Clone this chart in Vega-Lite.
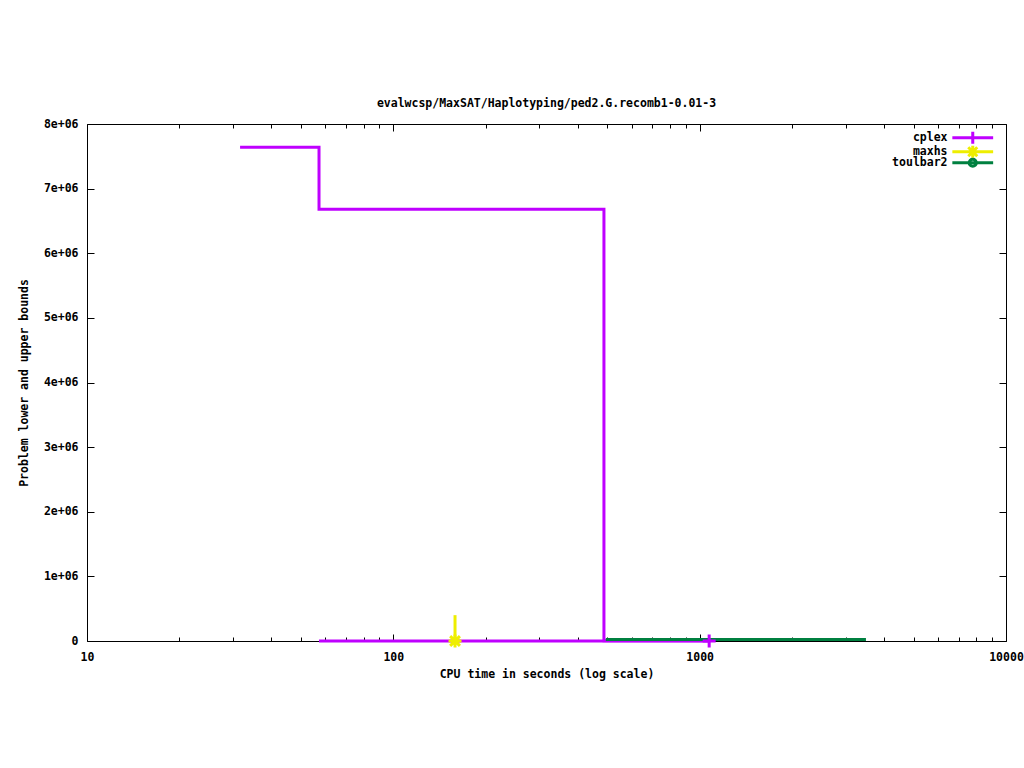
{
  "$schema": "https://vega.github.io/schema/vega-lite/v6.json",
  "width": 919,
  "height": 517,
  "autosize": {"type": "none"},
  "padding": {"left": 87, "top": 124, "right": 18, "bottom": 127},
  "background": "white",
  "title": {
    "text": "evalwcsp/MaxSAT/Haplotyping/ped2.G.recomb1-0.01-3",
    "frame": "group",
    "anchor": "middle",
    "offset": 9,
    "font": "DejaVu Sans Mono",
    "fontSize": 11.5,
    "fontWeight": "bold",
    "color": "black"
  },
  "config": {
    "view": {"stroke": "black", "strokeWidth": 1},
    "axis": {
      "domain": false,
      "grid": false,
      "tickColor": "black",
      "tickWidth": 1,
      "labelFont": "DejaVu Sans Mono",
      "labelFontSize": 11.5,
      "labelFontWeight": "bold",
      "labelColor": "black",
      "titleFont": "DejaVu Sans Mono",
      "titleFontSize": 11.5,
      "titleFontWeight": "bold",
      "titleColor": "black"
    }
  },
  "datasets": {
    "bounds": [
      {"solver": "cplex", "bound": "upper", "i": 0, "time": 31.6, "value": 7640000},
      {"solver": "cplex", "bound": "upper", "i": 1, "time": 57.2, "value": 6680000},
      {"solver": "cplex", "bound": "upper", "i": 2, "time": 487, "value": 5000},
      {"solver": "cplex", "bound": "upper", "i": 3, "time": 1074, "value": 5000},
      {"solver": "cplex", "bound": "lower", "i": 0, "time": 57.2, "value": 0},
      {"solver": "cplex", "bound": "lower", "i": 1, "time": 1074, "value": 0},
      {"solver": "maxhs", "bound": "upper", "i": 0, "time": 159, "value": 400000},
      {"solver": "maxhs", "bound": "upper", "i": 1, "time": 159, "value": 0},
      {"solver": "toulbar2", "bound": "upper", "i": 0, "time": 494, "value": 23000},
      {"solver": "toulbar2", "bound": "upper", "i": 1, "time": 3490, "value": 23000}
    ],
    "markers": [
      {"solver": "cplex", "time": 1074, "value": 0},
      {"solver": "maxhs", "time": 159, "value": 0}
    ]
  },
  "layer": [
    {
      "data": {"name": "bounds"},
      "mark": {"type": "line", "interpolate": "step-after", "strokeWidth": 3, "clip": false},
      "encoding": {
        "x": {
          "field": "time",
          "type": "quantitative",
          "scale": {"type": "log", "domain": [10, 10000], "nice": false},
          "axis": {
            "orient": "bottom",
            "title": "CPU time in seconds (log scale)",
            "values": [10, 20, 30, 40, 50, 60, 70, 80, 90, 100, 200, 300, 400, 500, 600, 700, 800, 900, 1000, 2000, 3000, 4000, 5000, 6000, 7000, 8000, 9000, 10000],
            "format": "d",
            "labelExpr": "indexof([10, 100, 1000, 10000], datum.value) >= 0 ? datum.label : ''",
            "tickSize": {"condition": {"test": "indexof([10, 100, 1000, 10000], datum.value) >= 0", "value": -7}, "value": -4},
            "labelPadding": 17,
            "labelOverlap": false,
            "labelFlush": false,
            "titlePadding": 3
          }
        },
        "y": {
          "field": "value",
          "type": "quantitative",
          "scale": {"domain": [0, 8000000], "nice": false},
          "axis": {
            "orient": "left",
            "title": "Problem lower and upper bounds",
            "values": [0, 1000000, 2000000, 3000000, 4000000, 5000000, 6000000, 7000000, 8000000],
            "labelExpr": "datum.value == 0 ? '0' : (datum.value / 1000000) + 'e+06'",
            "tickSize": -7,
            "labelPadding": 16,
            "labelOverlap": false,
            "labelFlush": false,
            "titlePadding": 14
          }
        },
        "color": {
          "field": "solver",
          "type": "nominal",
          "scale": {"domain": ["cplex", "maxhs", "toulbar2"], "range": ["#bf00ff", "#eeee00", "#008040"]},
          "legend": {
            "orient": "none",
            "legendX": 880,
            "legendY": 8,
            "title": null,
            "padding": 0,
            "symbolSize": 36,
            "symbolStrokeWidth": 3,
            "labelFont": "DejaVu Sans Mono",
            "labelFontSize": 11.5,
            "labelFontWeight": "bold",
            "labelColor": "black",
            "labelAlign": "right",
            "labelOffset": -31,
            "rowPadding": -11,
            "gridAlign": "none",
            "encode": {
              "symbols": {
                "update": {
                  "shape": {"signal": "datum.value === 'cplex' ? 'M-6.8,0H6.8M0,-2V2' : datum.value === 'maxhs' ? 'M-6.8,0H6.8M0,-2V2M-1.5,-1.5L1.5,1.5M-1.5,1.5L1.5,-1.5' : 'M-6.8,0H6.8M-1.2,0A1.2,1.2 0 1,0 1.2,0A1.2,1.2 0 1,0 -1.2,0'"},
                  "fill": {"value": "transparent"},
                  "strokeWidth": {"value": 3}
                }
              }
            }
          }
        },
        "detail": {"field": "bound", "type": "nominal"},
        "order": {"field": "i", "type": "quantitative"}
      }
    },
    {
      "data": {"name": "markers"},
      "mark": {"type": "point", "filled": false, "strokeWidth": 3, "size": 169, "opacity": 1, "clip": false},
      "encoding": {
        "x": {
          "field": "time",
          "type": "quantitative",
          "scale": {"type": "log", "domain": [10, 10000], "nice": false},
          "axis": {
            "orient": "top",
            "title": null,
            "labels": false,
            "values": [10, 20, 30, 40, 50, 60, 70, 80, 90, 100, 200, 300, 400, 500, 600, 700, 800, 900, 1000, 2000, 3000, 4000, 5000, 6000, 7000, 8000, 9000, 10000],
            "tickSize": {"condition": {"test": "indexof([10, 100, 1000, 10000], datum.value) >= 0", "value": -7}, "value": -4}
          }
        },
        "y": {
          "field": "value",
          "type": "quantitative",
          "scale": {"domain": [0, 8000000], "nice": false},
          "axis": {
            "orient": "right",
            "title": null,
            "labels": false,
            "values": [0, 1000000, 2000000, 3000000, 4000000, 5000000, 6000000, 7000000, 8000000],
            "tickSize": -7
          }
        },
        "color": {
          "field": "solver",
          "type": "nominal",
          "scale": {"domain": ["cplex", "maxhs", "toulbar2"], "range": ["#bf00ff", "#eeee00", "#008040"]}
        },
        "shape": {
          "field": "solver",
          "type": "nominal",
          "scale": {"domain": ["cplex", "maxhs"], "range": ["M-1,0H1M0,-1V1", "M-1,0H1M0,-1V1M-0.75,-0.75L0.75,0.75M-0.75,0.75L0.75,-0.75"]},
          "legend": null
        }
      }
    }
  ]
}
